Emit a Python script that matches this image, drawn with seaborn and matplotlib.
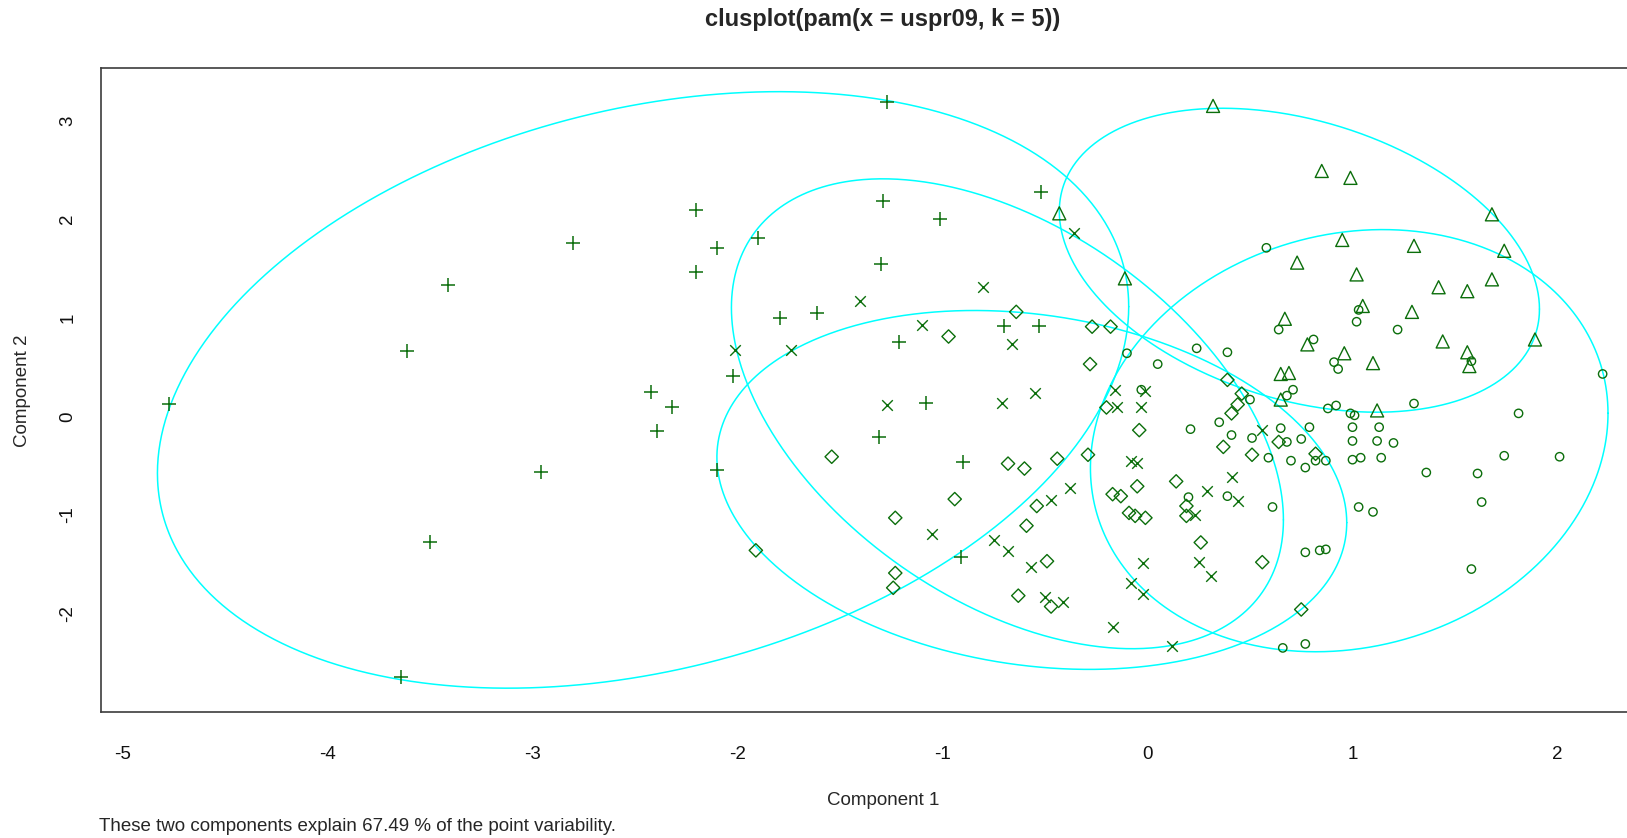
import numpy as np
import pandas as pd
import matplotlib
matplotlib.use("Agg")
import matplotlib.pyplot as plt
import seaborn as sns

# ---------------- data (component scores per cluster) ----------------
circle_x = [0.58, 0.64, -0.10, 0.24, 0.39, 0.05, 0.50, 0.71, 0.68, -0.03, 0.21, 0.35,
            0.41, 0.51, 0.59, 0.65, 0.68, 0.75, 0.70, 0.77, 0.39, 0.61, 0.20, 0.77,
            0.66, 0.77, 1.03, 1.02, 1.22, 0.81, 0.91, 0.93, 1.58, 2.22, 1.30, 0.88,
            0.92, 0.99, 1.01, 1.81, 0.79, 1.00, 1.13, 1.00, 1.12, 1.20, 0.82, 0.87,
            1.00, 1.04, 1.14, 1.36, 1.61, 1.74, 2.01, 1.63, 1.03, 1.10, 0.84, 0.87, 1.58]
circle_y = [1.71, 0.88, 0.64, 0.69, 0.65, 0.53, 0.17, 0.27, 0.21, 0.27, -0.13, -0.06,
            -0.19, -0.22, -0.42, -0.12, -0.26, -0.23, -0.45, -0.52, -0.81, -0.92, -0.82, -1.38,
            -2.35, -2.31, 1.08, 0.96, 0.88, 0.78, 0.55, 0.48, 0.56, 0.43, 0.13, 0.08,
            0.11, 0.03, 0.01, 0.03, -0.11, -0.11, -0.11, -0.25, -0.25, -0.27, -0.45, -0.45,
            -0.44, -0.42, -0.42, -0.57, -0.58, -0.40, -0.41, -0.87, -0.92, -0.97, -1.36, -1.35, -1.55]

triangle_x = [0.32, -0.43, -0.11, 0.73, 0.67, 0.78, 0.65, 0.69, 0.65, 0.85, 0.99, 1.68,
              0.95, 1.30, 1.74, 1.02, 1.42, 1.56, 1.68, 1.05, 1.29, 0.96, 1.10, 1.44,
              1.56, 1.57, 1.89, 1.12]
triangle_y = [3.15, 2.06, 1.40, 1.56, 0.99, 0.73, 0.43, 0.44, 0.17, 2.49, 2.42, 2.05,
              1.79, 1.73, 1.68, 1.44, 1.31, 1.27, 1.39, 1.12, 1.06, 0.64, 0.54, 0.76,
              0.65, 0.51, 0.78, 0.06]

plus_x = [-4.77, -3.61, -3.41, -2.80, -2.96, -3.50, -3.64, -2.42, -2.32, -2.39, -2.20, -2.20,
          -2.10, -1.90, -1.79, -1.61, -2.02, -2.10, -1.27, -1.29, -1.01, -1.30, -1.21, -1.08,
          -0.70, -0.53, -0.90, -0.91, -1.31, -0.52]
plus_y = [0.13, 0.66, 1.33, 1.76, -0.57, -1.28, -2.65, 0.25, 0.09, -0.15, 2.09, 1.46,
          1.71, 1.81, 1.00, 1.05, 0.41, -0.54, 3.19, 2.19, 2.00, 1.55, 0.75, 0.14,
          0.92, 0.92, -0.46, -1.43, -0.21, 2.28]

cross_x = [-2.01, -1.74, -1.40, -0.80, -1.10, -0.66, -1.27, -0.71, -0.55, -1.05, -0.75, -0.68,
           -0.47, -0.57, -0.50, -0.36, -0.15, -0.03, 0.56, -0.08, -0.05, 0.29, 0.41, 0.44,
           0.23, -0.38, -0.02, 0.25, 0.31, -0.08, -0.02, -0.41, -0.17, 0.12, -0.16, -0.01]
cross_y = [0.67, 0.67, 1.17, 1.31, 0.93, 0.73, 0.11, 0.14, 0.24, -1.19, -1.25, -1.37,
           -0.85, -1.53, -1.83, 1.86, 0.09, 0.09, -0.14, -0.45, -0.47, -0.76, -0.62, -0.86,
           -1.00, -0.73, -1.49, -1.48, -1.62, -1.69, -1.80, -1.88, -2.14, -2.33, 0.27, 0.26]

diamond_x = [-1.91, -0.97, -0.64, -1.54, -0.68, -0.60, -0.44, -0.94, -1.23, -0.54, -0.59, -0.49,
             -1.23, -1.24, -0.63, -0.47, -0.27, -0.18, -0.28, 0.39, 0.46, -0.20, -0.04, 0.41,
             0.44, 0.37, 0.51, 0.64, -0.29, -0.05, 0.14, 0.19, 0.19, -0.17, -0.13, -0.09,
             -0.06, -0.01, 0.26, 0.56, 0.75, 0.82]
diamond_y = [-1.36, 0.81, 1.06, -0.41, -0.48, -0.53, -0.43, -0.84, -1.03, -0.91, -1.11, -1.47,
             -1.59, -1.74, -1.82, -1.93, 0.91, 0.91, 0.53, 0.37, 0.23, 0.09, -0.14, 0.03,
             0.12, -0.31, -0.39, -0.26, -0.39, -0.71, -0.66, -0.91, -1.01, -0.79, -0.81, -0.98,
             -1.01, -1.03, -1.28, -1.48, -1.96, -0.38]

# spanning ellipses: centre and shape matrix [[sxx, sxy], [sxy, syy]]
ell_cx = [0.984, 0.741, -2.46, -0.683, -0.564]
ell_cy = [-0.247, 1.584, 0.268, 0.026, -0.747]
ell_sxx = [1.593, 1.371, 5.61, 1.812, 2.359]
ell_syy = [4.588, 2.378, 9.16, 5.684, 3.316]
ell_sxy = [0.35, -0.58, 2.0, -1.45, -0.51]

x_ticks = [-5, -4, -3, -2, -1, 0, 1, 2]
y_ticks = [-2, -1, 0, 1, 2, 3]

title = "clusplot(pam(x = uspr09, k = 5))"
xlab = "Component 1"
ylab = "Component 2"
footnote = "These two components explain 67.49 % of the point variability."

# ---------------- style ----------------
sns.set_style("white")
plt.rcParams["font.family"] = ["Liberation Sans", "DejaVu Sans"]

GREEN = "#0b6e0b"
CYAN = "#00FFFF"
FRAME = "#3c3c3c"

fig = plt.figure(figsize=(16.27, 8.38), dpi=100)
ax = fig.add_axes([0.0618, 0.1504, 1.0222 - 0.0618, 0.9183 - 0.1504])

# ellipses
t = np.linspace(0, 2 * np.pi, 721)
for cx, cy, sxx, syy, sxy in zip(ell_cx, ell_cy, ell_sxx, ell_syy, ell_sxy):
    L = np.linalg.cholesky(np.array([[sxx, sxy], [sxy, syy]]))
    pts = L @ np.vstack([np.cos(t), np.sin(t)])
    df = pd.DataFrame({"x": cx + pts[0], "y": cy + pts[1]})
    sns.lineplot(data=df, x="x", y="y", sort=False, estimator=None, color=CYAN,
                 linewidth=1.1, ax=ax, zorder=2)

# points
sns.scatterplot(x=circle_x, y=circle_y, marker="o", s=36, color=GREEN,
                facecolors="none", edgecolor=GREEN, linewidth=1.0, ax=ax, zorder=3)
sns.scatterplot(x=triangle_x, y=triangle_y, marker="^", s=88, color=GREEN,
                facecolors="none", edgecolor=GREEN, linewidth=1.0, ax=ax, zorder=3)
sns.scatterplot(x=diamond_x, y=diamond_y, marker="D", s=46, color=GREEN,
                facecolors="none", edgecolor=GREEN, linewidth=1.0, ax=ax, zorder=3)
sns.scatterplot(x=plus_x, y=plus_y, marker="+", s=100, color=GREEN,
                linewidth=1.1, ax=ax, zorder=3)
sns.scatterplot(x=cross_x, y=cross_y, marker="x", s=58, color=GREEN,
                linewidth=1.0, ax=ax, zorder=3)

ax.set_xlim(-5.106, 2.515)
ax.set_ylim(-3.0, 3.53)
ax.set_xticks(x_ticks)
ax.set_xticklabels([str(v) for v in x_ticks])
ax.set_yticks(y_ticks)
ax.set_yticklabels([str(v) for v in y_ticks], rotation=90, va="center")
ax.tick_params(axis="both", direction="out", length=8.5, width=1.0, color=FRAME,
               labelsize=13.5, labelcolor="#111111")
ax.tick_params(axis="x", pad=16)
ax.tick_params(axis="y", pad=9)
ax.set_xlabel("")
ax.set_ylabel("")
for sp in ax.spines.values():
    sp.set_visible(True)
    sp.set_color(FRAME)
    sp.set_linewidth(1.2)
ax.grid(False)

fig.text(0.5427, 0.977, title, ha="center", va="center", fontsize=17, fontweight="bold")
fig.text(0.5427, 0.0442, xlab, ha="center", va="center", fontsize=13.5)
fig.text(0.0141, 0.534, ylab, ha="center", va="center", rotation=90, fontsize=13.5)
fig.text(0.0609, 0.0143, footnote, ha="left", va="center", fontsize=13.5)

fig.savefig("out.png", dpi=100)
